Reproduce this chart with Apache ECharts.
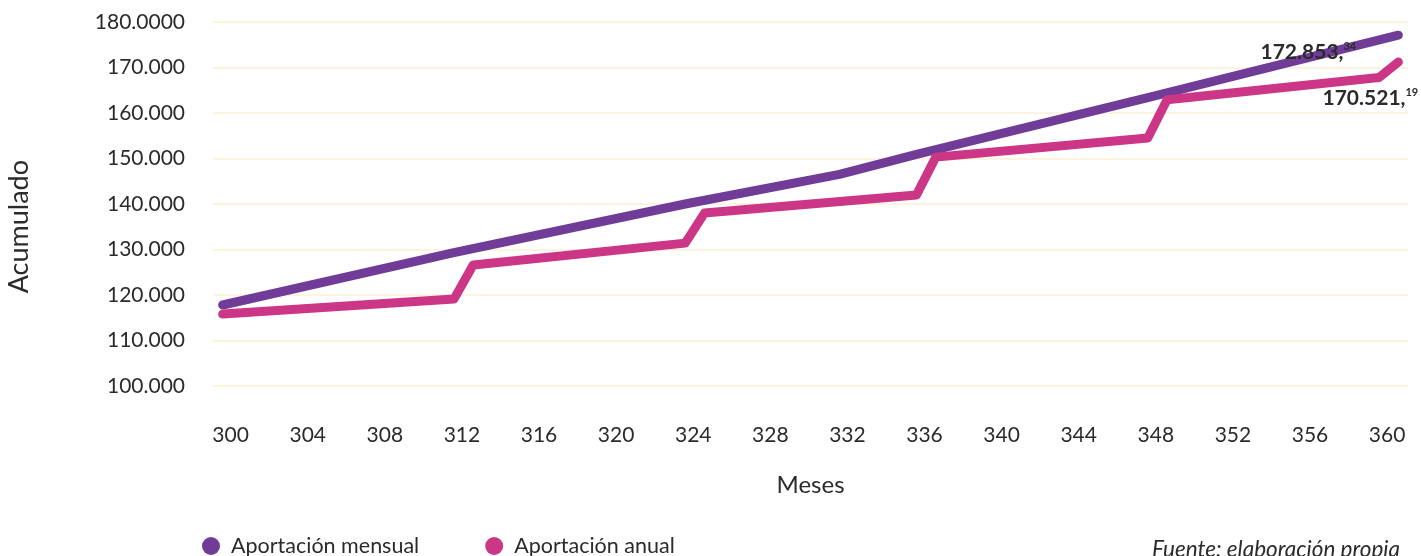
<!DOCTYPE html>
<html>
<head>
<meta charset="utf-8">
<script src="https://cdn.jsdelivr.net/npm/echarts@6/dist/echarts.min.js"></script>
<style>
html,body{margin:0;padding:0;background:#fff;}
#c{width:1421px;height:556px;}
</style>
</head>
<body>
<div id="c"></div>
<script>
var months = ['300','301','302','303','304','305','306','307','308','309','310','311','312','313','314','315','316','317','318','319','320','321','322','323','324','325','326','327','328','329','330','331','332','333','334','335','336','337','338','339','340','341','342','343','344','345','346','347','348','349','350','351','352','353','354','355','356','357','358','359','360','361'];
var yTickLabels = ['100.000','110.000','120.000','130.000','140.000','150.000','160.000','170.000','180.0000'];
var seriesNames = ['Aportación mensual','Aportación anual'];
var mensualMonths = ['300','312','324','332','336','348','361'];
var mensualValues = [117800,129300,140000,146500,150900,163400,177100];
var anualMonths = ['300','312','313','324','325','336','337','348','349','360','361'];
var anualValues = [115800,119100,126600,131400,138000,142000,150300,154500,162900,167800,171200];
var endLabelMain = ['172.853,','170.521,'];
var endLabelSup = ['34','19'];

var FONT = 'Lato';
var TXT = '#2b2b2b';
var purple = '#703c98';
var pink = '#cc3686';

function pairs(ms, vs){ return ms.map(function(m,i){ return [m, vs[i]]; }); }

var chart = echarts.init(document.getElementById('c'));
chart.setOption({
  animation:false,
  textStyle:{fontFamily:FONT},
  grid:{left:213,right:13,top:22,bottom:170},
  legend:{
    left:197, top:530, itemGap:66, itemWidth:18, itemHeight:18,
    icon:'circle',
    textStyle:{fontFamily:FONT,fontSize:21.5,color:TXT,padding:[0,0,0,6]},
    data:seriesNames
  },
  xAxis:{
    type:'category', data:months, boundaryGap:true,
    name:'Meses', nameLocation:'middle', nameGap:87,
    nameTextStyle:{fontFamily:FONT,fontSize:24,color:TXT},
    axisLine:{show:false}, axisTick:{show:false},
    axisLabel:{interval:3, margin:39, fontFamily:FONT, fontSize:21, color:TXT, padding:[0,0,0,16]},
    splitLine:{show:false}
  },
  yAxis:{
    type:'value', min:100000, max:180000, interval:10000,
    axisLine:{show:false}, axisTick:{show:false},
    axisLabel:{margin:28, fontFamily:FONT, fontSize:21, color:TXT,
      formatter:function(v){ return yTickLabels[Math.round((v-100000)/10000)]; }},
    splitLine:{lineStyle:{color:'#fcf0d4',width:1.5}}
  },
  graphic:[
    {type:'text', left:6, top:160, rotation:Math.PI/2, originX:0, originY:0,
     style:{text:'Acumulado', fontFamily:FONT, fontSize:27, fill:TXT}},
    {type:'text', right:21, top:538,
     style:{text:'Fuente: elaboración propia', fontFamily:FONT, fontSize:22.5, fontStyle:'italic', fill:TXT}}
  ],
  series:[
    {
      name:seriesNames[0], type:'line', data:pairs(mensualMonths,mensualValues),
      showSymbol:false, symbol:'circle', symbolSize:10,
      itemStyle:{color:purple},
      lineStyle:{color:purple,width:9,cap:'round',join:'round'},
      markPoint:{
        symbol:'circle', symbolSize:1, itemStyle:{color:'rgba(0,0,0,0)'},
        data:[{coord:[mensualMonths[mensualMonths.length-1], mensualValues[mensualValues.length-1]],
          label:{show:true, position:'inside', offset:[-90,17],
            formatter:'{a|'+endLabelMain[0]+'}{b|'+endLabelSup[0]+'}',
            rich:{a:{fontFamily:FONT,fontSize:21,fontWeight:'bold',color:TXT},
                  b:{fontFamily:FONT,fontSize:11,fontWeight:'bold',color:TXT,verticalAlign:'top',padding:[0,0,12,0]}}}}]
      }
    },
    {
      name:seriesNames[1], type:'line', data:pairs(anualMonths,anualValues),
      showSymbol:false, symbol:'circle', symbolSize:10,
      itemStyle:{color:pink},
      lineStyle:{color:pink,width:9,cap:'round',join:'round'},
      markPoint:{
        symbol:'circle', symbolSize:1, itemStyle:{color:'rgba(0,0,0,0)'},
        data:[{coord:[anualMonths[anualMonths.length-1], anualValues[anualValues.length-1]],
          label:{show:true, position:'inside', offset:[-28,36],
            formatter:'{a|'+endLabelMain[1]+'}{b|'+endLabelSup[1]+'}',
            rich:{a:{fontFamily:FONT,fontSize:21,fontWeight:'bold',color:TXT},
                  b:{fontFamily:FONT,fontSize:11,fontWeight:'bold',color:TXT,verticalAlign:'top',padding:[0,0,12,0]}}}}]
      }
    }
  ]
});
</script>
</body>
</html>
